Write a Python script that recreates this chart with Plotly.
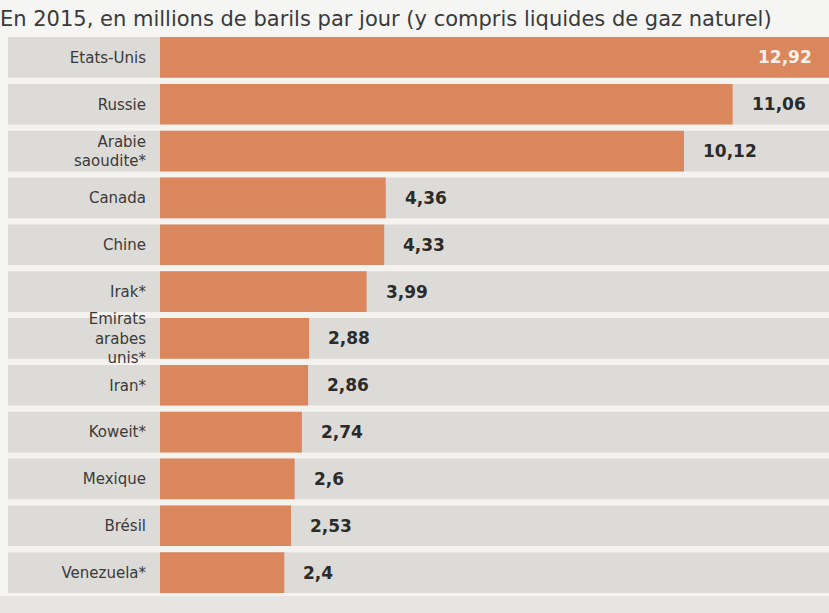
import plotly.graph_objects as go

# ---- data ----
countries = ["Etats-Unis", "Russie", "Arabie saoudite*", "Canada", "Chine", "Irak*",
             "Emirats arabes unis*", "Iran*", "Koweit*", "Mexique", "Brésil", "Venezuela*"]
tick_labels = ["Etats-Unis", "Russie", "Arabie<br>saoudite*", "Canada", "Chine", "Irak*",
               "Emirats<br>arabes<br>unis*", "Iran*", "Koweit*", "Mexique", "Brésil", "Venezuela*"]
production = [12.92, 11.06, 10.12, 4.36, 4.33, 3.99, 2.88, 2.86, 2.74, 2.6, 2.53, 2.4]
title_text = "En 2015, en millions de barils par jour (y compris liquides de gaz naturel)"

# ---- style ----
W, H = 829, 613
ML, MR, MT, MB = 160, 0, 34, 17
BAR = "#da875e"
PANEL = "#dddbd7"
SEP = "#f4f3f0"
FONT = "DejaVu Sans"
BARGAP = 0.13
LABEL_SIZE = 15

plot_w = W - ML - MR
panel_x0 = (8 - ML) / plot_w

fig = go.Figure()
fig.add_trace(go.Bar(
    x=production, y=countries, orientation="h",
    marker=dict(color=BAR, line=dict(width=0)),
    hoverinfo="x+y",
))

shapes = []
shapes.append(dict(type="rect", xref="paper", yref="paper", x0=panel_x0, x1=1, y0=0, y1=1,
                   fillcolor=PANEL, line=dict(width=0), layer="below"))
shapes.append(dict(type="rect", xref="paper", yref="paper", x0=-ML / plot_w, x1=1,
                   y0=-MB / (H - MT - MB), y1=0, fillcolor="#e6e5e2", line=dict(width=0), layer="below"))
n = len(countries)
for i in range(n + 1):
    c = i - 0.5
    shapes.append(dict(type="rect", xref="paper", yref="y", x0=panel_x0, x1=1,
                       y0=c - BARGAP / 2, y1=c + BARGAP / 2,
                       fillcolor=SEP, line=dict(width=0), layer="below"))

annotations = []
# value labels
vmax = max(production)
for c, v in zip(countries, production):
    txt = f"{v:g}".replace(".", ",")
    if v == vmax:
        annotations.append(dict(x=v, y=c, xref="x", yref="y", text=txt, showarrow=False,
                                xanchor="right", xshift=-15,
                                font=dict(family=FONT, size=17, color="#fbf1ea", weight="bold")))
    else:
        annotations.append(dict(x=v, y=c, xref="x", yref="y", text=txt, showarrow=False,
                                xanchor="left", xshift=17,
                                font=dict(family=FONT, size=17, color="#2b2b2b", weight="bold")))

fig.update_layout(
    width=W, height=H,
    margin=dict(l=ML, r=MR, t=MT, b=MB, pad=0),
    paper_bgcolor="#f5f5f3",
    plot_bgcolor="rgba(0,0,0,0)",
    bargap=BARGAP,
    showlegend=False,
    title=dict(text=title_text, x=0, xref="container", xanchor="left",
               y=1 - 19 / H, yanchor="middle", pad=dict(l=0),
               font=dict(family=FONT, size=21, color="#3a3a3a")),
    xaxis=dict(range=[0, 12.92], visible=False, showgrid=False, zeroline=False, fixedrange=True),
    yaxis=dict(range=[n - 0.5, -0.5], showgrid=False, zeroline=False, showline=False,
               tickmode="array", tickvals=countries, ticktext=tick_labels,
               ticks="", ticklabelstandoff=13,
               tickfont=dict(family=FONT, size=LABEL_SIZE, color="#3a3a3a")),
    shapes=shapes,
    annotations=annotations,
)

fig.write_html("out.html")
